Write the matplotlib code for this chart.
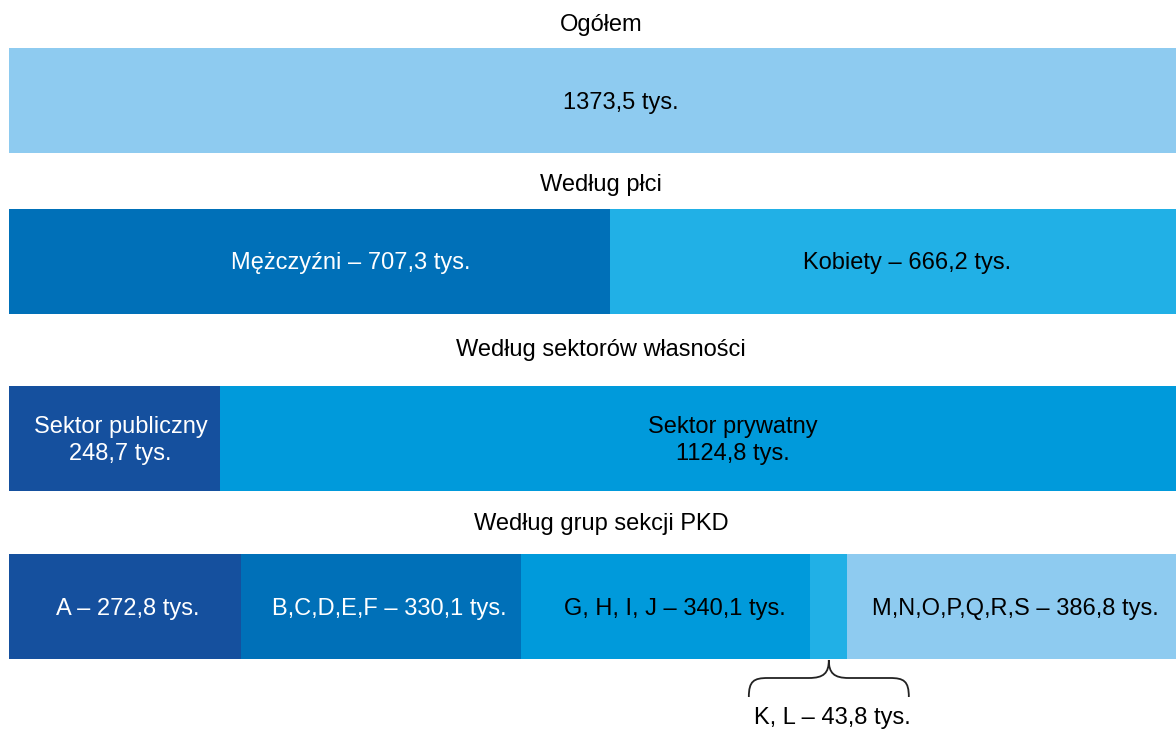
import numpy as np
import matplotlib
matplotlib.use("Agg")
import matplotlib.pyplot as plt
from matplotlib.path import Path
from matplotlib.patches import PathPatch

plt.rcParams["font.family"] = ["Liberation Sans", "DejaVu Sans"]

# data (thousands of people)
total = [1373.5]
sex_labels = ["Mężczyźni", "Kobiety"]
sex_values = [707.3, 666.2]
sector_labels = ["Sektor publiczny", "Sektor prywatny"]
sector_values = [248.7, 1124.8]
pkd_labels = ["A", "B,C,D,E,F", "G, H, I, J", "K, L", "M,N,O,P,Q,R,S"]
pkd_values = [272.8, 330.1, 340.1, 43.8, 386.8]

titles = ["Ogółem", "Według płci", "Według sektorów własności", "Według grup sekcji PKD"]


def fmt(v):
    return f"{v:.1f}".replace(".", ",") + " tys."


W, H = 1176, 731
fig = plt.figure(figsize=(W / 100, H / 100), dpi=100)
ax = fig.add_axes([0, 0, 1, 1])
k = 1167 / total[0]  # px per unit
ax.set_xlim(-9 / k, total[0])
ax.set_ylim(H, 0)
ax.axis("off")

FS = 17
bar_h = 105
dark = "#15509E"
mid = "#0070B8"
blue = "#009ADB"
sky = "#21B0E6"
light = "#8ECBF0"


def row(values, colors, labels, yc, txt_colors, dx):
    left = np.concatenate([[0], np.cumsum(values)[:-1]])
    ax.barh(yc, values, left=left, height=bar_h, color=colors, linewidth=0)
    for l, v, lab, tc, d in zip(left, values, labels, txt_colors, dx):
        if lab is None:
            continue
        ax.text(l + v / 2 + d / k, yc + 2, lab, ha="center", va="center",
                color=tc, fontsize=FS, linespacing=1.3)
    return left


def title(txt, y):
    ax.text((601 - 9) / k, y, txt, ha="center", va="center", fontsize=FS)


title(titles[0], 25)
row(total, [light], [fmt(total[0])], 100.5, ["black"], [28])

title(titles[1], 185)
row(sex_values, [mid, sky],
    [f"{l} – {fmt(v)}" for l, v in zip(sex_labels, sex_values)],
    261.5, ["white", "black"], [41, 14])

title(titles[2], 350)
row(sector_values, [dark, blue],
    [f"{l}\n{fmt(v)}" for l, v in zip(sector_labels, sector_values)],
    438.5, ["white", "black"], [6, 35])

title(titles[3], 524)
pkd_text = [f"{l} – {fmt(v)}" for l, v in zip(pkd_labels, pkd_values)]
pkd_text[3] = None
left = row(pkd_values, [dark, mid, blue, sky, light], pkd_text,
           606.5, ["white", "white", "black", "black", "black"], [3, 8, 9, 0, 4])

# brace under the small K, L segment
cx = left[3] + pkd_values[3] / 2
hw = 80 / k
y0, ym, yt = 697, 678, 660
verts = [
    (cx - hw, y0),
    (cx - hw, ym + 3), (cx - hw + 5 / k, ym), (cx - hw + 19 / k, ym),
    (cx - 20 / k, ym),
    (cx - 5 / k, ym), (cx, ym - 5), (cx, yt),
    (cx, ym - 5), (cx + 5 / k, ym), (cx + 20 / k, ym),
    (cx + hw - 19 / k, ym),
    (cx + hw - 5 / k, ym), (cx + hw, ym + 3), (cx + hw, y0),
]
codes = [Path.MOVETO,
         Path.CURVE4, Path.CURVE4, Path.CURVE4,
         Path.LINETO,
         Path.CURVE4, Path.CURVE4, Path.CURVE4,
         Path.CURVE4, Path.CURVE4, Path.CURVE4,
         Path.LINETO,
         Path.CURVE4, Path.CURVE4, Path.CURVE4]
ax.add_patch(PathPatch(Path(verts, codes), facecolor="none", edgecolor="#222222", lw=1.3))
ax.text(cx + 4 / k, 718, f"{pkd_labels[3]} – {fmt(pkd_values[3])}",
        ha="center", va="center", fontsize=FS)

fig.savefig("out.png", dpi=100)
